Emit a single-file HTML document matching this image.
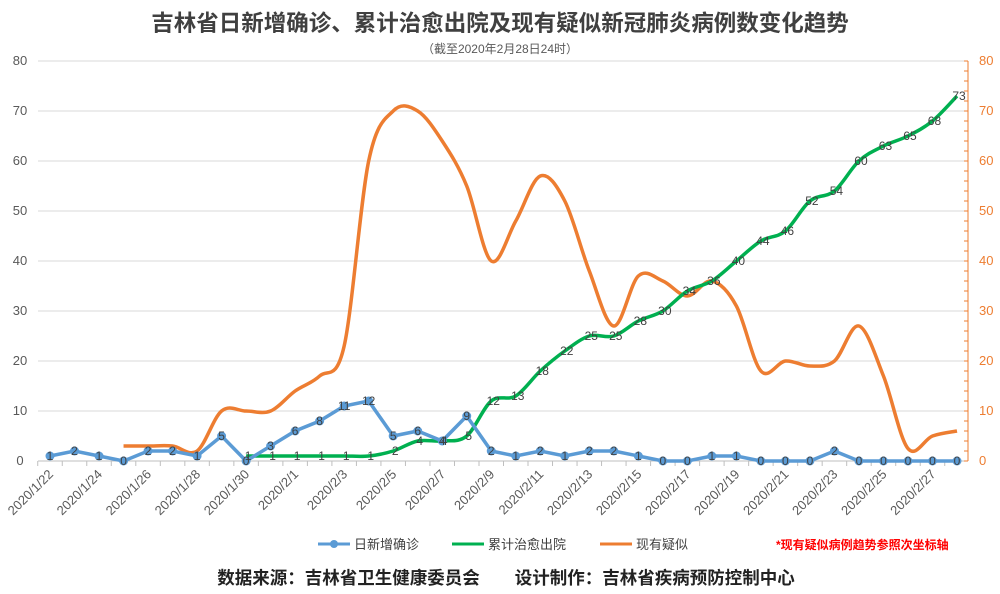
<!DOCTYPE html>
<html><head><meta charset="utf-8">
<style>
html,body{margin:0;padding:0;background:#fff;}
svg{display:block;font-family:"Liberation Sans","Noto Sans CJK SC",sans-serif;}
</style></head>
<body>
<svg id="chart" width="1000" height="594" viewBox="0 0 1000 594" xmlns="http://www.w3.org/2000/svg">
<text x="500" y="31" text-anchor="middle" font-size="22.5" font-weight="bold" fill="#404040">吉林省日新增确诊、累计治愈出院及现有疑似新冠肺炎病例数变化趋势</text>
<text x="500" y="53" text-anchor="middle" font-size="12" fill="#595959">（截至2020年2月28日24时）</text>
<g id="grid"></g>
<g id="axes"></g>
<g id="series"></g>
<g id="labels"></g>
<g>
 <g><line x1="318" y1="544" x2="350" y2="544" stroke="#5b9bd5" stroke-width="3"/><circle cx="334" cy="544" r="4" fill="#5b9bd5"/><text x="354" y="549" font-size="13" fill="#404040">日新增确诊</text></g>
 <g><line x1="452" y1="544" x2="484" y2="544" stroke="#00b050" stroke-width="3"/><text x="488" y="549" font-size="13" fill="#404040">累计治愈出院</text></g>
 <g><line x1="600" y1="544" x2="632" y2="544" stroke="#ed7d31" stroke-width="3"/><text x="636" y="549" font-size="13" fill="#404040">现有疑似</text></g>
 <text x="776" y="549" font-size="12" font-weight="bold" fill="#ff0000">*现有疑似病例趋势参照次坐标轴</text>
</g>
<text x="506" y="584" text-anchor="middle" font-size="17.5" font-weight="bold" fill="#222">数据来源：吉林省卫生健康委员会　　设计制作：吉林省疾病预防控制中心</text>
</svg>
<script>
const dates=["1/22","1/23","1/24","1/25","1/26","1/27","1/28","1/29","1/30","1/31","2/1","2/2","2/3","2/4","2/5","2/6","2/7","2/8","2/9","2/10","2/11","2/12","2/13","2/14","2/15","2/16","2/17","2/18","2/19","2/20","2/21","2/22","2/23","2/24","2/25","2/26","2/27","2/28"];
const dailyNew=[1,2,1,0,2,2,1,5,0,3,6,8,11,12,5,6,4,9,2,1,2,1,2,2,1,0,0,1,1,0,0,0,2,0,0,0,0,0];
const curedStart=8;
const cured=[1,1,1,1,1,1,2,4,4,5,12,13,18,22,25,25,28,30,34,36,40,44,46,52,54,60,63,65,68,73];
const suspectedStart=3;
const suspected=[3,3,3,2,10,10,10,14,17,23,60,70,70,64,55,40,48,57,52,38,27,37,36,33,36,31,18,20,19,20,27,17,2.5,5,6];
const yTicks=[0,10,20,30,40,50,60,70,80];
const NS="http://www.w3.org/2000/svg";
const x0=50,dx=(957-50)/(dates.length-1);
const X=i=>x0+i*dx;
const Y=v=>461-v*5;
function mk(tag,attrs,parent,text){const e=document.createElementNS(NS,tag);for(const k in attrs)e.setAttribute(k,attrs[k]);if(text!==undefined)e.textContent=text;parent.appendChild(e);return e;}
const grid=document.getElementById('grid'),axes=document.getElementById('axes'),series=document.getElementById('series'),labels=document.getElementById('labels');
yTicks.forEach(t=>{
 const g=mk('line',{x1:38,x2:966,y1:Y(t),y2:Y(t),stroke:t===0?'#bfbfbf':'#d9d9d9','stroke-width':1},grid);
 
 
 const l=mk('text',{x:20,y:Y(t)+4,'text-anchor':'middle','font-size':13,fill:'#595959'},axes,t);
 
 
 const r=mk('text',{x:979,y:Y(t)+4,'font-size':13,fill:'#ed7d31'},axes,t);
 
 
});
const ax=mk('line',{x1:968,x2:968,y1:Y(80),y2:Y(0),stroke:'#ed7d31','stroke-width':1},axes);


for(let v=0;v<=80;v+=2){const t=mk('line',{x1:964,x2:968,y1:Y(v),y2:Y(v),stroke:'#ed7d31','stroke-width':1},axes);}
dates.forEach((d,i)=>{
 const tk=mk('line',{x1:X(i)-dx/2,x2:X(i)-dx/2,y1:461,y2:466,stroke:'#bfbfbf'},axes);
 
 
 if(i%2===0){
  const t=mk('text',{x:X(i)+4,y:475,'text-anchor':'end','font-size':13,fill:'#595959',transform:`rotate(-45 ${X(i)+4} 475)`},axes,'2020/'+d);
  
  
 }
});
function smooth(pts){let d=`M${pts[0][0]},${pts[0][1]}`;for(let i=0;i<pts.length-1;i++){const p0=pts[i-1]||pts[i],p1=pts[i],p2=pts[i+1],p3=pts[i+2]||p2;const c1=[p1[0]+(p2[0]-p0[0])/6,p1[1]+(p2[1]-p0[1])/6],c2=[p2[0]-(p3[0]-p1[0])/6,p2[1]-(p3[1]-p1[1])/6];d+=`C${c1[0]},${c1[1]} ${c2[0]},${c2[1]} ${p2[0]},${p2[1]}`;}return d;}
const sp=suspected.map((v,i)=>[X(i+suspectedStart),Y(v)]);
const so=mk('path',{d:smooth(sp),fill:'none',stroke:'#ed7d31','stroke-width':3.5},series);


const cp=cured.map((v,i)=>[X(i+curedStart),Y(v)]);
const cl=mk('path',{d:smooth(cp),fill:'none',stroke:'#00b050','stroke-width':3.5},series);


const dp=dailyNew.map((v,i)=>[X(i),Y(v)]);
const dl=mk('polyline',{points:dp.map(p=>p.join(',')).join(' '),fill:'none',stroke:'#5b9bd5','stroke-width':3.5},series);


dp.forEach((p,i)=>{
 const c=mk('circle',{cx:p[0],cy:p[1],r:4.5,fill:'#5b9bd5'},series);
 
 
 const t=mk('text',{x:p[0],y:p[1]+4,'text-anchor':'middle','font-size':12,fill:'#404040'},labels,dailyNew[i]);
 
 
});
cp.forEach((p,i)=>{
 const t=mk('text',{x:p[0]+2,y:p[1]+4,'text-anchor':'middle','font-size':12,fill:'#404040'},labels,cured[i]);
 
 
});
</script>
</body></html>
